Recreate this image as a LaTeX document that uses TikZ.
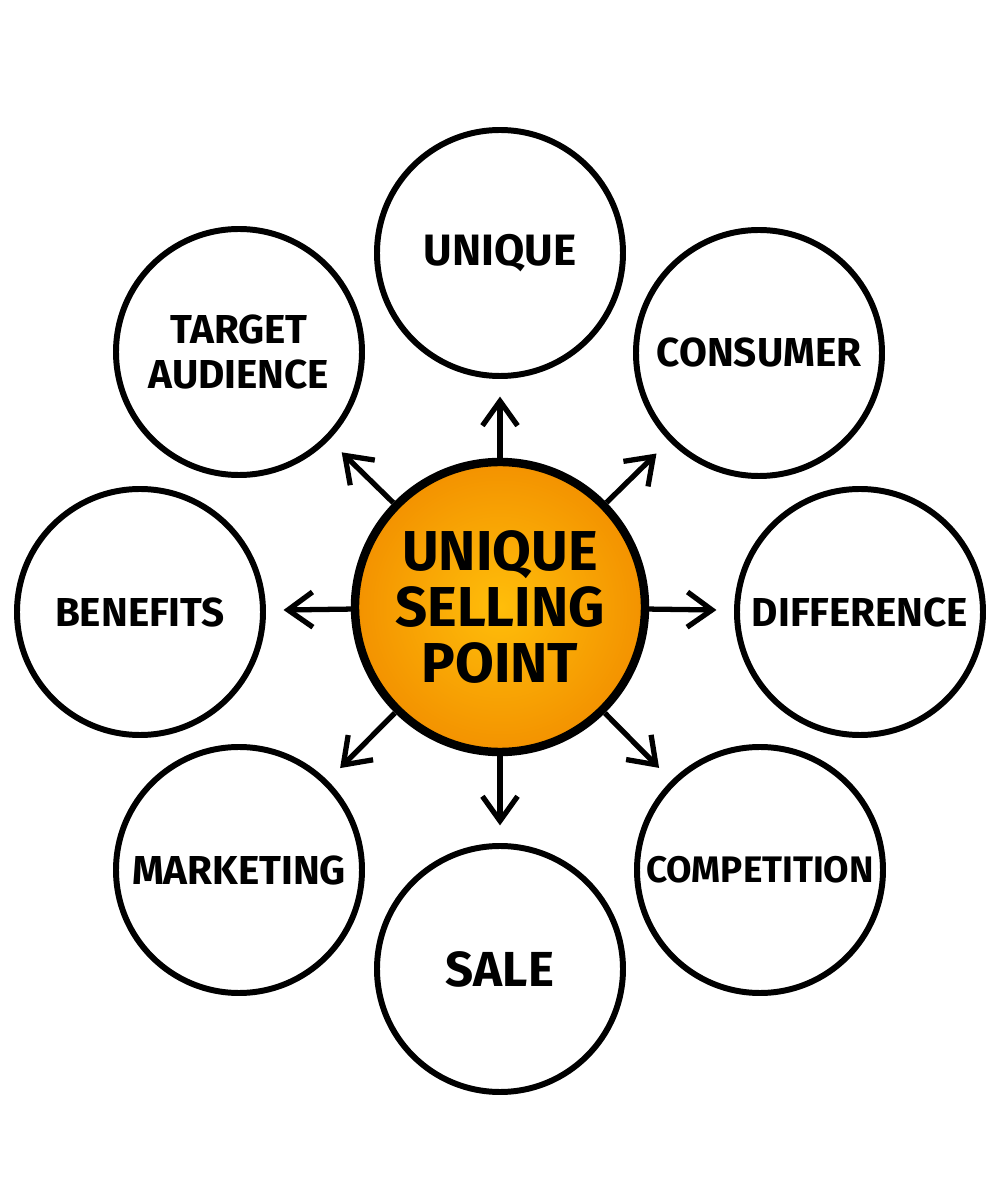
\documentclass[tikz,border=0pt]{standalone}
\usepackage{fontspec}
\setmainfont{Fira Sans}
\usetikzlibrary{arrows.meta}
\definecolor{uspinner}{HTML}{FFBE0A}
\definecolor{uspouter}{HTML}{F39200}
\tikzset{
  idea/.style={circle, draw, line width=1.7pt, minimum size=2.46cm, inner sep=0pt,
    align=center, font=\bfseries\fontsize{11.5}{13}\selectfont},
  core/.style={circle, draw, line width=2.4pt, minimum size=2.9cm, inner sep=0pt,
    align=center, inner color=uspinner, outer color=uspouter,
    font=\bfseries\fontsize{16}{16}\selectfont},
  ray/.style={line width=1.5pt, -{Straight Barb[length=7pt,width=10pt]}, shorten >=5pt}
}

\begin{document}
\begin{tikzpicture}
  \useasboundingbox[fill=white] (0,0) rectangle (10.04,12);

  % nodo centrale
  \node[core] (usp) at (5.00,5.93) {UNIQUE\\SELLING\\POINT};

  % cerchi esterni
  \node[idea] (unique)      at (5.00,9.47) {\fontsize{12.5}{14}\selectfont UNIQUE};
  \node[idea] (consumer)    at (7.59,8.47) {CONSUMER};
  \node[idea] (difference)  at (8.60,5.88) {DIFFERENCE};
  \node[idea] (competition) at (7.60,3.30) {\fontsize{10.5}{12}\selectfont COMPETITION};
  \node[idea] (sale)        at (5.00,2.31) {\fontsize{14}{16}\selectfont SALE};
  \node[idea] (marketing)   at (2.39,3.30) {MARKETING};
  \node[idea] (benefits)    at (1.40,5.88) {BENEFITS};
  \node[idea] (target)      at (2.39,8.48) {TARGET\\AUDIENCE};

  % frecce
  \foreach \n in {unique,consumer,difference,competition,sale,marketing,benefits,target}
    \draw[ray] (usp) -- (\n);
\end{tikzpicture}
\end{document}
